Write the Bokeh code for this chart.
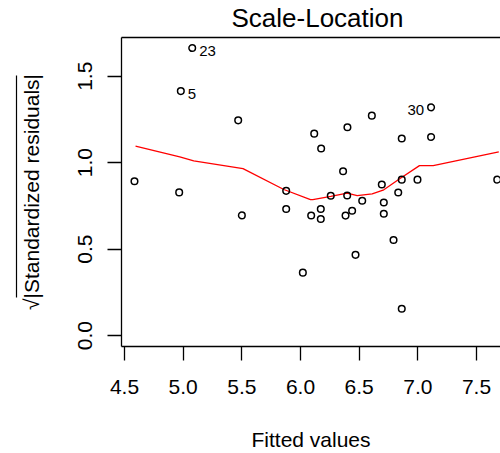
from bokeh.plotting import figure
from bokeh.models import (Range1d, LinearAxis, FixedTicker, ColumnDataSource,
                          PrintfTickFormatter)
from bokeh.embed import file_html
from bokeh.resources import INLINE
from bokeh.core.properties import value

# ---- data ----
fitted = [5.077, 4.980, 5.469, 4.585, 4.966, 5.500, 5.878, 5.878, 6.020, 6.091,
          6.173, 6.173, 6.258, 6.363, 6.398, 6.384, 6.440, 6.469, 6.526, 6.693,
          6.710, 6.710, 6.793, 6.833, 6.863, 6.863, 6.997, 7.677, 6.117, 6.176,
          6.400, 6.608, 6.863, 7.113, 7.113]
sqrt_abs_std_resid = [1.663, 1.414, 1.245, 0.893, 0.828, 0.695, 0.837, 0.732, 0.364, 0.695,
                      0.732, 0.674, 0.809, 0.950, 0.810, 0.694, 0.722, 0.467, 0.780, 0.874,
                      0.770, 0.705, 0.553, 0.828, 0.902, 0.155, 0.902, 0.902, 1.168, 1.082,
                      1.205, 1.272, 1.140, 1.149, 1.320]
point_ids = ["23", "5", "", "", "", "", "", "", "", "",
             "", "", "", "", "", "", "", "", "", "",
             "", "", "", "", "", "", "", "", "", "",
             "", "", "", "", "30"]
smooth_x = [4.594, 4.971, 5.090, 5.510, 5.858, 6.085, 6.105, 6.258, 6.398, 6.483,
            6.611, 6.710, 6.852, 7.014, 7.131, 7.690]
smooth_y = [1.096, 1.034, 1.010, 0.966, 0.845, 0.786, 0.786, 0.805, 0.824, 0.810,
            0.820, 0.843, 0.910, 0.983, 0.983, 1.063]
x_ticks = [4.5, 5.0, 5.5, 6.0, 6.5, 7.0, 7.5]
y_ticks = [0.0, 0.5, 1.0, 1.5]
title_text = "Scale-Location"
x_label = "Fitted values"
y_label = "\u221a|Standardized residuals|"

FONT_NAME = "Liberation Sans"
FONT = value(FONT_NAME)

p = figure(width=500, height=453, output_backend="svg", toolbar_location=None,
           x_range=Range1d(4.4744, 7.7046), y_range=Range1d(-0.0632, 1.7241),
           min_border_left=121, min_border_right=0, min_border_top=36,
           min_border_bottom=106)
p.grid.visible = False
p.outline_line_color = None
p.background_fill_color = "white"
p.border_fill_color = "white"

for ax, ticks in ((p.xaxis[0], x_ticks), (p.yaxis[0], y_ticks)):
    ax.ticker = FixedTicker(ticks=ticks, minor_ticks=[])
    ax.formatter = PrintfTickFormatter(format="%.1f")
    ax.axis_line_width = 1.3
    ax.axis_line_color = "black"
    ax.major_tick_line_width = 1.3
    ax.major_tick_line_color = "black"
    ax.major_tick_out = 14
    ax.major_tick_in = 0
    ax.minor_tick_line_color = None
    ax.major_label_text_font = FONT_NAME
    ax.major_label_text_font_size = "21px"
    ax.major_label_text_color = "black"
    ax.axis_label_text_font = FONT_NAME
    ax.axis_label_text_font_size = "21px"
    ax.axis_label_text_font_style = "normal"
    ax.axis_label_text_color = "black"

p.xaxis.axis_label = x_label
p.xaxis.major_label_standoff = 19
p.xaxis.axis_label_standoff = 31
p.yaxis.axis_label = y_label
p.yaxis.major_label_orientation = "vertical"
p.yaxis.major_label_standoff = 15
p.yaxis.axis_label_standoff = 33

# top edge of the box (one invisible tick keeps the title clear of the box)
top_axis = LinearAxis(ticker=FixedTicker(ticks=[6.0], minor_ticks=[]),
                      formatter=PrintfTickFormatter(format=""),
                      major_tick_out=5, major_tick_in=0, minor_tick_out=0,
                      major_tick_line_color=None,
                      major_label_text_font_size="0px", axis_line_width=1.3,
                      axis_line_color="black", major_label_standoff=0)
p.add_layout(top_axis, "above")

# overline of the square-root sign in the y label
sqrt_bar = LinearAxis(ticker=FixedTicker(ticks=[], minor_ticks=[]),
                      major_tick_out=0, major_tick_in=0, minor_tick_out=0,
                      major_label_text_font_size="0px", axis_line_width=1.2,
                      axis_line_color="black", major_label_standoff=0,
                      bounds=(0.218, 1.506))
p.add_layout(sqrt_bar, "left")

# title
p.title.text = title_text
p.title.align = "left"
p.title.offset = 110
p.title.standoff = 0
p.title.text_font = FONT_NAME
p.title.text_font_size = "26px"
p.title.text_font_style = "normal"
p.title.text_color = "black"

# red smoother
p.line(smooth_x, smooth_y, line_color="red", line_width=1.3)

# points
p.scatter(fitted, sqrt_abs_std_resid, marker="circle", size=6.6,
          fill_color=None, line_color="black", line_width=1.5)

# labels of extreme points (R: right of point if in left half, else left)
mid = (min(fitted) + max(fitted)) / 2
lx, ly, lt, la, lo = [], [], [], [], []
for xv, yv, t in zip(fitted, sqrt_abs_std_resid, point_ids):
    if t:
        lx.append(xv); ly.append(yv); lt.append(t)
        right = xv <= mid
        la.append("left" if right else "right")
        lo.append(7 if right else -7)
src = ColumnDataSource(dict(x=lx, y=ly, t=lt, a=la, o=lo))
p.text(x="x", y="y", text="t", source=src, text_align="a", x_offset="o",
       y_offset=3, text_baseline="middle", text_font=FONT,
       text_font_size="15px", text_color="black")

open("out.html", "w").write(file_html(p, INLINE))
